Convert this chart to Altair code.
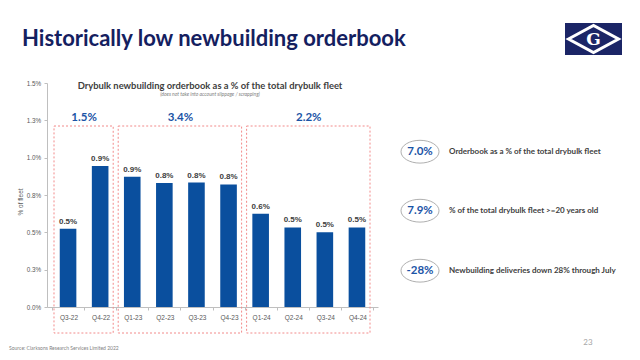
import altair as alt
import pandas as pd

# ---------------- data ----------------
categories = ["Q3-22", "Q4-22", "Q1-23", "Q2-23", "Q3-23", "Q4-23",
              "Q1-24", "Q2-24", "Q3-24", "Q4-24"]
orderbook_pct = [0.524, 0.944, 0.873, 0.830, 0.833, 0.821,
                 0.625, 0.533, 0.500, 0.533]
group_years = ["22", "23", "24"]
group_totals = ["1.5%", "3.4%", "2.2%"]
y_ticks = [0, 0.25, 0.5, 0.75, 1.0, 1.25, 1.5]
kpi_values = ["7.0%", "7.9%", "-28%"]
kpi_texts = ["Orderbook as a % of the total drybulk fleet",
             "% of the total drybulk fleet >=20 years old",
             "Newbuilding deliveries down 28% through July"]

main_title = "Historically low newbuilding orderbook"
chart_title = "Drybulk newbuilding orderbook as a % of the total drybulk fleet"
chart_subtitle = "(does not take into account slippage / scrapping)"
y_title = "% of fleet"
source_text = "Source: Clarksons Research Services Limited 2022"
page_number = "23"

# ---------------- styling ----------------
W, H = 331, 224
BAR = "#0a4f9e"
NAVY = "#14205f"
BLUE = "#1b54a6"
GREY_TXT = "#595959"
DARK_TXT = "#404040"
AXIS_GREY = "#bfbfbf"
BOX_RED = "#f28a8a"

bars_df = pd.DataFrame({"idx": list(range(len(categories))),
                        "quarter": categories,
                        "value": orderbook_pct})
bars_df["year"] = bars_df["quarter"].str[-2:]
grp = bars_df.groupby("year")["idx"].agg(["min", "max"]).reset_index()
grp["total"] = grp["year"].map(dict(zip(group_years, group_totals)))

xscale = alt.Scale(domain=[-0.5, len(categories) - 0.5], nice=False, zero=False)
yscale = alt.Scale(domain=[0, 1.5], nice=False)

cat_js = "[" + ",".join("'%s'" % c for c in categories) + "]"
x_axis = alt.Axis(
    values=[i - 0.5 for i in range(len(categories) + 1)],
    labelExpr="datum.value < %d ? %s[round(datum.value + 0.5)] : ''" % (len(categories) - 1, cat_js),
    labelOffset=W / len(categories) / 2,
    title=None, grid=False, domainColor=AXIS_GREY, tickColor=AXIS_GREY,
    tickSize=3, labelColor=GREY_TXT, labelFont="Liberation Sans",
    labelFontSize=6.5, labelPadding=4, labelFlush=False, labelOverlap=False,
)
y_axis = alt.Axis(
    values=y_ticks, labelExpr="format(datum.value, '.1f') + '%'",
    title=None, grid=False, domainColor=AXIS_GREY, tickColor=AXIS_GREY,
    tickSize=3, labelColor=GREY_TXT, labelFont="Liberation Sans",
    labelFontSize=6.3, labelPadding=3.5, labelOverlap=False,
)

base = alt.Chart(bars_df)
bars = base.mark_bar(size=16.6, color=BAR).encode(
    x=alt.X("idx:Q", scale=xscale, axis=x_axis),
    y=alt.Y("value:Q", scale=yscale, axis=y_axis),
)
bar_labels = base.transform_calculate(
    label="format(datum.value, '.1f') + '%'"
).mark_text(dy=-3, baseline="bottom", font="Liberation Sans",
            fontWeight="bold", fontSize=8, color=DARK_TXT).encode(
    x=alt.X("idx:Q", scale=xscale, axis=x_axis),
    y=alt.Y("value:Q", scale=yscale, axis=y_axis),
    text="label:N",
)

gbase = alt.Chart(grp).transform_calculate(
    x0="datum.min - 0.5", x1="datum.max + 0.5", xc="(datum.min + datum.max) / 2"
)
boxes = gbase.mark_rect(filled=False, stroke=BOX_RED, strokeWidth=1,
                        strokeDash=[2, 2], xOffset=2, x2Offset=-3).encode(
    x=alt.X("x0:Q", scale=xscale, axis=x_axis),
    x2="x1:Q",
    y=alt.value(43),
    y2=alt.value(250),
)
group_labels = gbase.mark_text(font="Lato", fontWeight="bold", fontSize=11.5,
                               color=BLUE, baseline="middle").encode(
    x=alt.X("xc:Q", scale=xscale, axis=x_axis),
    y=alt.value(35),
    text="total:N",
)


def label(text, x, y, **kw):
    return alt.Chart(pd.DataFrame({"t": [text]})).mark_text(**kw).encode(
        x=alt.value(x), y=alt.value(y), text="t:N")


layers = [boxes, bars, bar_labels, group_labels]

# titles
layers.append(label(main_title, -25, -37, font="Lato", fontWeight="bold",
                    fontSize=22, color=NAVY, align="left", baseline="alphabetic"))
layers.append(label(chart_title, 163, 3, font="Lato", fontWeight="bold",
                    fontSize=9.4, color=DARK_TXT, align="center", baseline="middle"))
layers.append(label(chart_subtitle, 163, 11, font="Lato", fontStyle="italic",
                    fontSize=5, color="#7f7f7f", align="center", baseline="middle"))
layers.append(label(y_title, -26.5, 119, font="Liberation Sans", fontSize=6.5,
                    color=GREY_TXT, angle=270, align="center", baseline="middle"))

# logo
one = pd.DataFrame({"a": [0]})
layers.append(alt.Chart(one).mark_rect(color="#1b2566").encode(
    x=alt.value(518), x2=alt.value(575), y=alt.value(-60), y2=alt.value(-28)))
layers.append(alt.Chart(one).mark_point(
    shape="M-1,0L0,-0.54L1,0L0,0.54Z", size=2500, filled=True,
    fill="#1b2566", stroke="white", strokeWidth=3, opacity=1).encode(
    x=alt.value(546.5), y=alt.value(-44)))
layers.append(label("G", 546.5, -43.5, font="DejaVu Serif", fontWeight="bold",
                    fontSize=17, color="white", align="center", baseline="middle"))

# KPIs
kpi_y = [68.7, 127.7, 187.7]
for v, t, yy in zip(kpi_values, kpi_texts, kpi_y):
    layers.append(alt.Chart(one).mark_point(
        shape="M-1,0A1,0.6,0,1,1,1,0A1,0.6,0,1,1,-1,0Z", size=1444,
        filled=True, fill="white", stroke="#9a9a9a", strokeWidth=0.8,
        opacity=1).encode(x=alt.value(373), y=alt.value(yy)))
    layers.append(label(v, 373, yy, font="Lato", fontWeight="bold", fontSize=11.5,
                        color=BLUE, align="center", baseline="middle"))
    layers.append(label(t, 402, yy, font="Lato", fontWeight="bold", fontSize=8,
                        color=DARK_TXT, align="left", baseline="middle"))

# footer
layers.append(alt.Chart(one).mark_rule(color="#d9d9d9", strokeWidth=1).encode(
    x=alt.value(-39), x2=alt.value(585), y=alt.value(270)))
layers.append(label(source_text, -38, 267, font="Lato", fontSize=5,
                    color="#7f7f7f", align="left", baseline="alphabetic"))
layers.append(label(page_number, 541, 260, font="Lato", fontSize=8,
                    color="#a6a6a6", align="center", baseline="middle"))

chart = alt.layer(*layers).properties(
    width=W, height=H,
    autosize=alt.AutoSizeParams(type="none"),
    padding={"left": 39, "top": 75, "right": 254, "bottom": 45},
).configure_view(stroke=None)

chart.save("out.html", embed_options={"renderer": "svg", "actions": False})
